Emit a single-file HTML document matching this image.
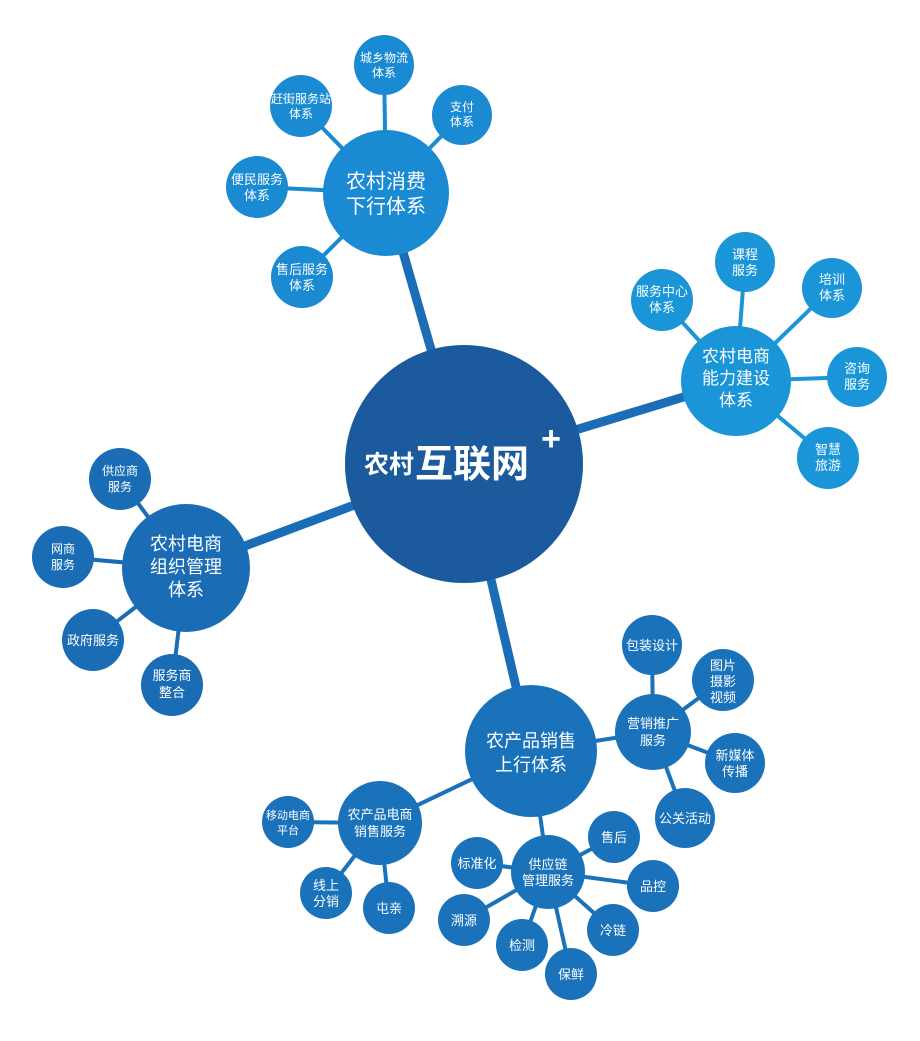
<!DOCTYPE html>
<html><head><meta charset="utf-8"><style>
html,body{margin:0;padding:0;background:#fff;}
svg text{font-family:"Liberation Sans","Noto Sans CJK SC",sans-serif;fill:#fff;text-anchor:middle;}
</style></head><body>
<svg width="920" height="1036" viewBox="0 0 920 1036" xmlns="http://www.w3.org/2000/svg">
<g stroke="#1a6db6" stroke-width="9">
<line x1="464" y1="464" x2="386" y2="193"/>
<line x1="464" y1="464" x2="736" y2="381"/>
<line x1="464" y1="464" x2="186" y2="568"/>
<line x1="464" y1="464" x2="531" y2="751"/>
</g>
<g stroke-width="4">
<g stroke="#1a8ad2">
<line x1="386" y1="193" x2="384" y2="65"/><line x1="386" y1="193" x2="462" y2="115"/>
<line x1="386" y1="193" x2="301" y2="106"/><line x1="386" y1="193" x2="257" y2="187"/>
<line x1="386" y1="193" x2="302" y2="277"/>
</g>
<g stroke="#1a96d8">
<line x1="736" y1="381" x2="745" y2="262"/><line x1="736" y1="381" x2="662" y2="300"/>
<line x1="736" y1="381" x2="832" y2="288"/><line x1="736" y1="381" x2="857" y2="377"/>
<line x1="736" y1="381" x2="828" y2="458"/>
</g>
<g stroke="#1a6cb4">
<line x1="186" y1="568" x2="120" y2="479"/><line x1="186" y1="568" x2="63" y2="557"/>
<line x1="186" y1="568" x2="93" y2="640"/><line x1="186" y1="568" x2="172" y2="685"/>
</g>
<g stroke="#1a72bb">
<line x1="531" y1="751" x2="653" y2="732"/><line x1="531" y1="751" x2="380" y2="823"/>
<line x1="531" y1="751" x2="548" y2="872"/>
<line x1="653" y1="732" x2="652" y2="645"/><line x1="653" y1="732" x2="723" y2="680"/>
<line x1="653" y1="732" x2="735" y2="763"/><line x1="653" y1="732" x2="685" y2="818"/>
<line x1="380" y1="823" x2="288" y2="822"/><line x1="380" y1="823" x2="326" y2="893"/>
<line x1="380" y1="823" x2="389" y2="908"/>
<line x1="548" y1="872" x2="614" y2="837"/><line x1="548" y1="872" x2="653" y2="886"/>
<line x1="548" y1="872" x2="613" y2="930"/><line x1="548" y1="872" x2="571" y2="974"/>
<line x1="548" y1="872" x2="522" y2="945"/><line x1="548" y1="872" x2="464" y2="920"/>
<line x1="548" y1="872" x2="477" y2="863"/>
</g>
</g>
<circle cx="464" cy="464" r="119" fill="#1b5a9c"/>
<text x="389" y="473" font-size="25" font-weight="bold">农村</text>
<text x="472" y="477" font-size="38" font-weight="bold">互联网</text>
<text x="551" y="450" font-size="34" font-weight="bold">+</text>
<g fill="#1a8ad2">
<circle cx="386" cy="193" r="63"/><circle cx="384" cy="65" r="30"/><circle cx="462" cy="115" r="30"/>
<circle cx="301" cy="106" r="31"/><circle cx="257" cy="187" r="31"/><circle cx="302" cy="277" r="31"/>
</g>
<text x="386" y="188" font-size="20">农村消费</text><text x="386" y="213" font-size="20">下行体系</text>
<text x="384" y="62" font-size="12">城乡物流</text><text x="384" y="77" font-size="12">体系</text>
<text x="462" y="111" font-size="12">支付</text><text x="462" y="126" font-size="12">体系</text>
<text x="301" y="103" font-size="12">赶街服务站</text><text x="301" y="118" font-size="12">体系</text>
<text x="257" y="184" font-size="13">便民服务</text><text x="257" y="200" font-size="13">体系</text>
<text x="302" y="274" font-size="13">售后服务</text><text x="302" y="290" font-size="13">体系</text>
<g fill="#1a96d8">
<circle cx="736" cy="381" r="55"/><circle cx="745" cy="262" r="30"/><circle cx="662" cy="300" r="31"/>
<circle cx="832" cy="288" r="30"/><circle cx="857" cy="377" r="30"/><circle cx="828" cy="458" r="31"/>
</g>
<text x="736" y="362" font-size="17">农村电商</text><text x="736" y="384" font-size="17">能力建设</text><text x="736" y="406" font-size="17">体系</text>
<text x="745" y="259" font-size="13">课程</text><text x="745" y="275" font-size="13">服务</text>
<text x="662" y="296" font-size="13">服务中心</text><text x="662" y="312" font-size="13">体系</text>
<text x="832" y="284" font-size="13">培训</text><text x="832" y="300" font-size="13">体系</text>
<text x="857" y="373" font-size="13">咨询</text><text x="857" y="389" font-size="13">服务</text>
<text x="828" y="454" font-size="13">智慧</text><text x="828" y="470" font-size="13">旅游</text>
<g fill="#1a6cb4">
<circle cx="186" cy="568" r="64"/><circle cx="120" cy="479" r="31"/><circle cx="63" cy="557" r="31"/>
<circle cx="93" cy="640" r="31"/><circle cx="172" cy="685" r="31"/>
</g>
<text x="186" y="550" font-size="18">农村电商</text><text x="186" y="573" font-size="18">组织管理</text><text x="186" y="596" font-size="18">体系</text>
<text x="120" y="475" font-size="12">供应商</text><text x="120" y="491" font-size="12">服务</text>
<text x="63" y="553" font-size="12">网商</text><text x="63" y="569" font-size="12">服务</text>
<text x="93" y="645" font-size="13">政府服务</text>
<text x="172" y="680" font-size="13">服务商</text><text x="172" y="697" font-size="13">整合</text>
<g fill="#1a72bb">
<circle cx="531" cy="751" r="66"/><circle cx="653" cy="732" r="38"/><circle cx="380" cy="823" r="42"/><circle cx="548" cy="872" r="37"/>
<circle cx="652" cy="645" r="30"/><circle cx="723" cy="680" r="31"/><circle cx="735" cy="763" r="30"/><circle cx="685" cy="818" r="30"/>
<circle cx="288" cy="822" r="26"/><circle cx="326" cy="893" r="26"/><circle cx="389" cy="908" r="26"/>
<circle cx="614" cy="837" r="26"/><circle cx="653" cy="886" r="26"/><circle cx="613" cy="930" r="26"/>
<circle cx="571" cy="974" r="26"/><circle cx="522" cy="945" r="26"/><circle cx="464" cy="920" r="26"/><circle cx="477" cy="863" r="26"/>
</g>
<text x="531" y="747" font-size="18">农产品销售</text><text x="531" y="771" font-size="18">上行体系</text>
<text x="653" y="728" font-size="13">营销推广</text><text x="653" y="745" font-size="13">服务</text>
<text x="380" y="819" font-size="13">农产品电商</text><text x="380" y="836" font-size="13">销售服务</text>
<text x="548" y="869" font-size="13">供应链</text><text x="548" y="885" font-size="13">管理服务</text>
<text x="652" y="650" font-size="13">包装设计</text>
<text x="723" y="670" font-size="13">图片</text><text x="723" y="686" font-size="13">摄影</text><text x="723" y="702" font-size="13">视频</text>
<text x="735" y="760" font-size="13">新媒体</text><text x="735" y="776" font-size="13">传播</text>
<text x="685" y="823" font-size="13">公关活动</text>
<text x="288" y="819" font-size="11">移动电商</text><text x="288" y="834" font-size="11">平台</text>
<text x="326" y="890" font-size="13">线上</text><text x="326" y="906" font-size="13">分销</text>
<text x="389" y="913" font-size="13">屯亲</text>
<text x="614" y="842" font-size="13">售后</text>
<text x="653" y="891" font-size="13">品控</text>
<text x="613" y="935" font-size="13">冷链</text>
<text x="571" y="979" font-size="13">保鲜</text>
<text x="522" y="950" font-size="13">检测</text>
<text x="464" y="925" font-size="13">溯源</text>
<text x="477" y="868" font-size="13">标准化</text>
</svg>
</body></html>
